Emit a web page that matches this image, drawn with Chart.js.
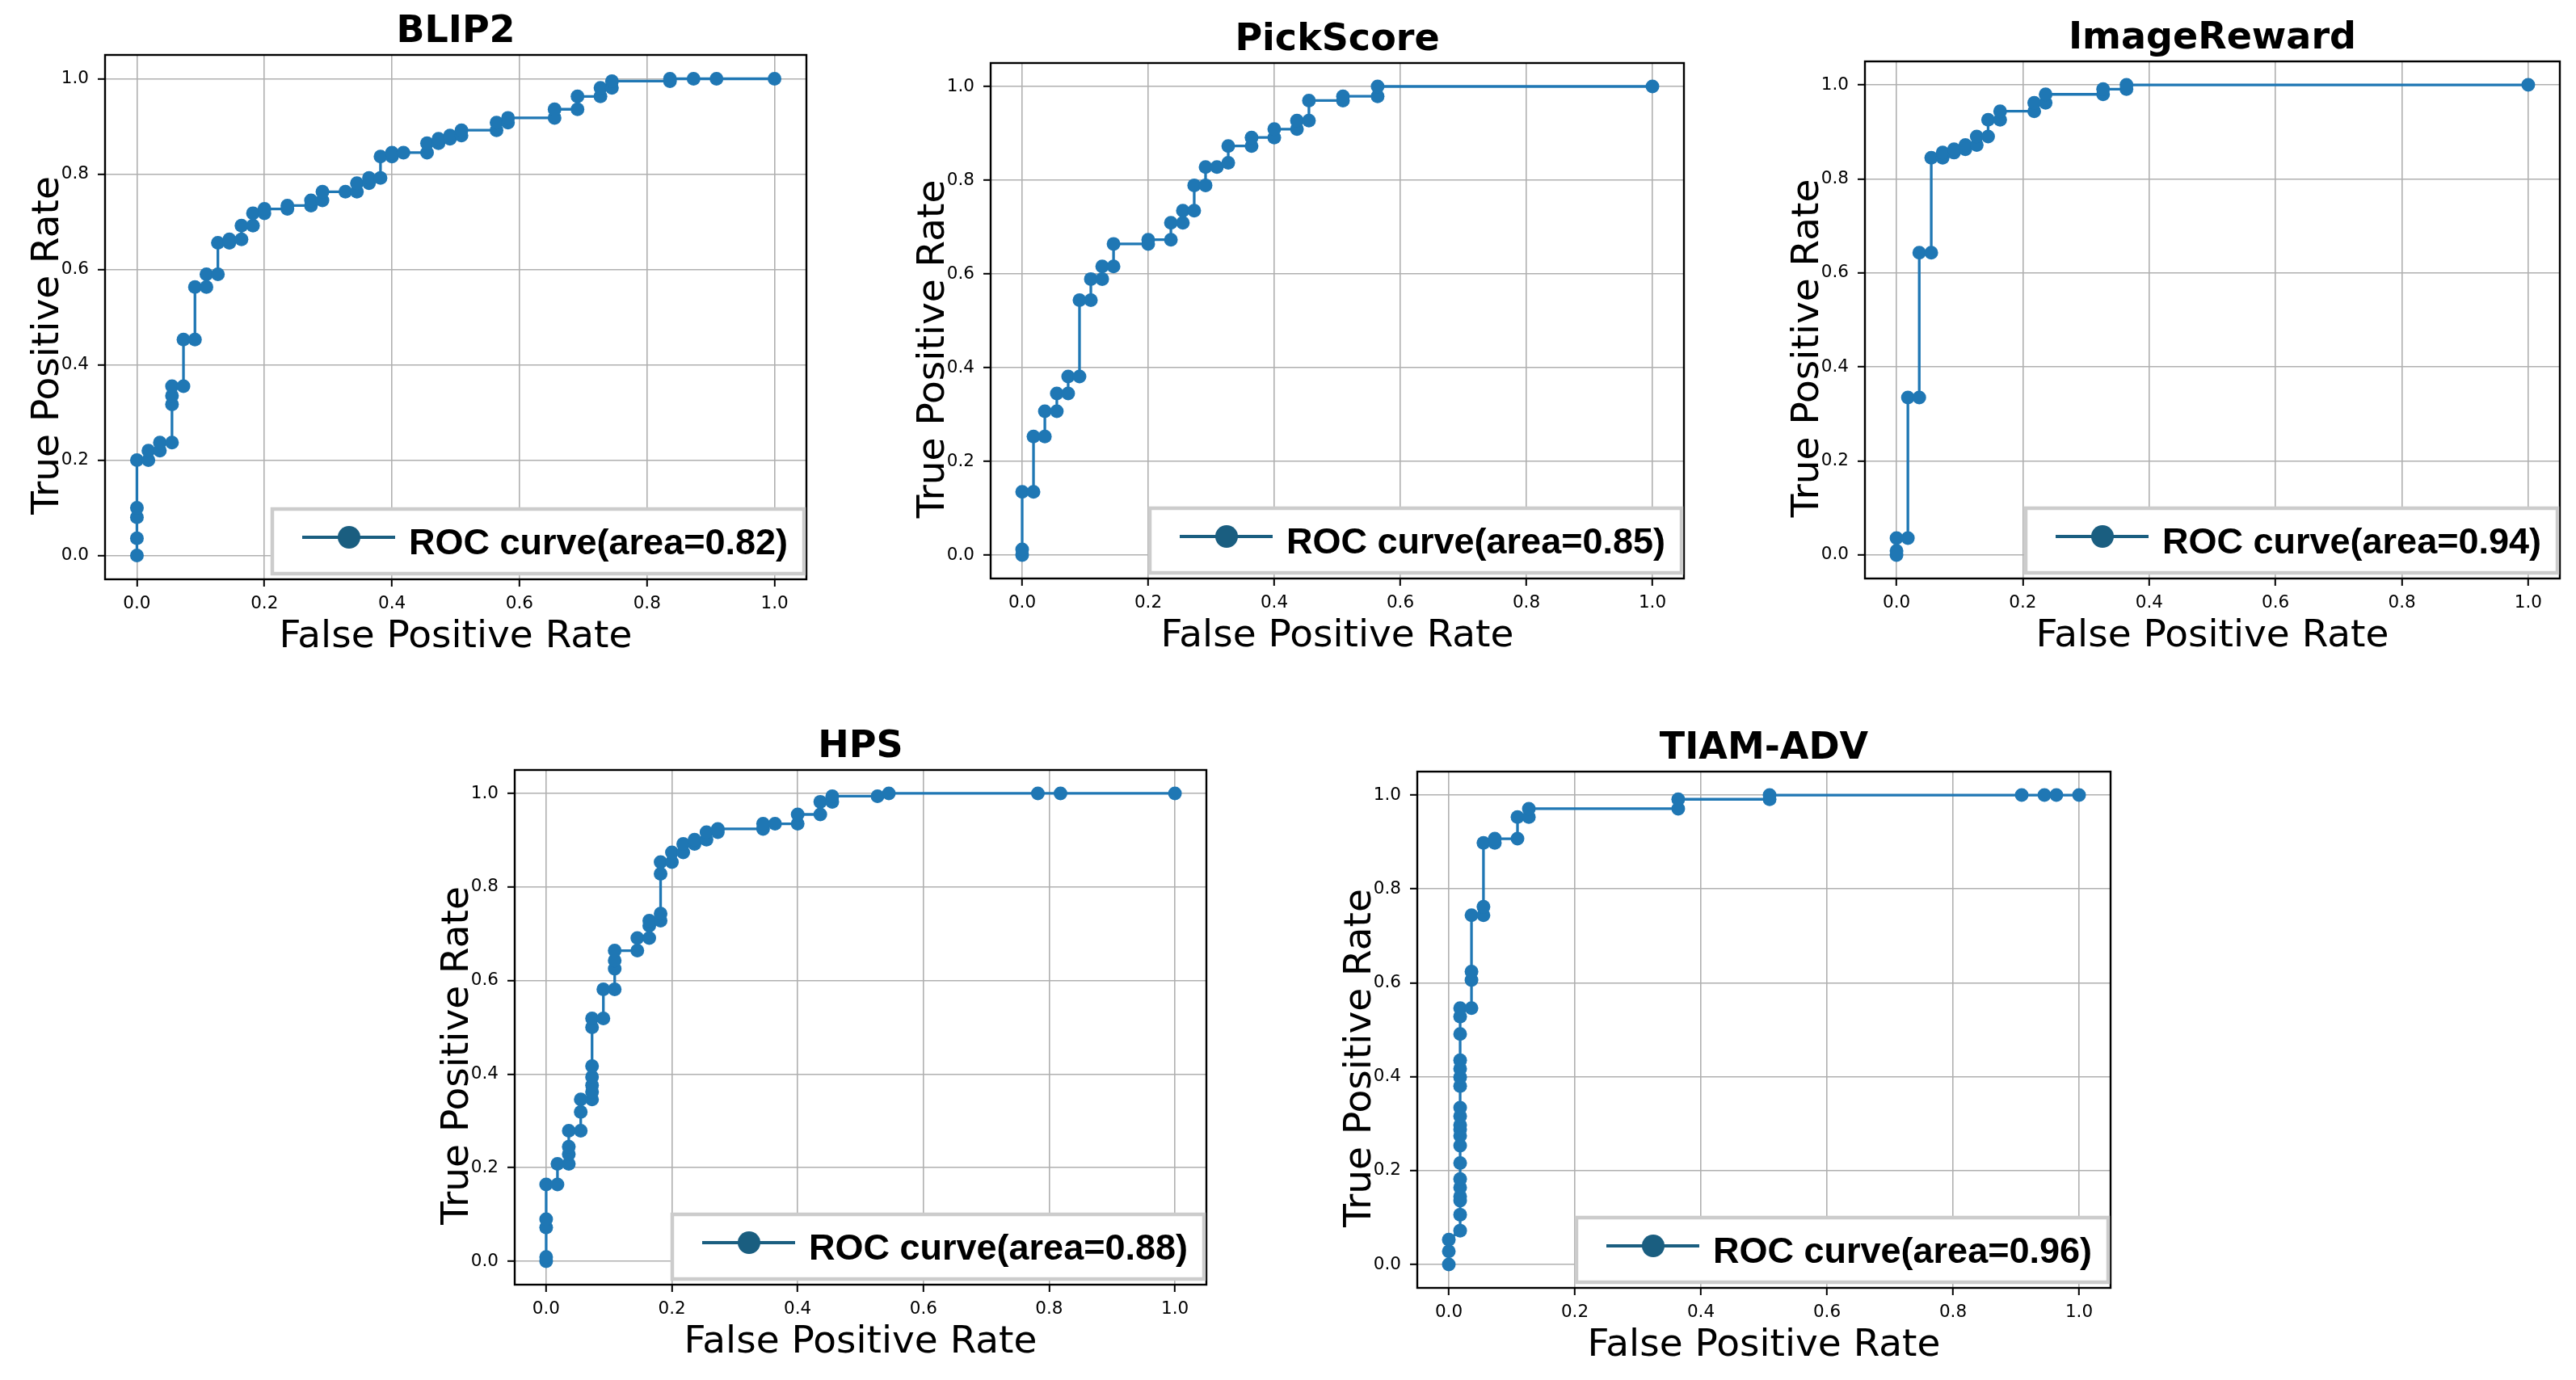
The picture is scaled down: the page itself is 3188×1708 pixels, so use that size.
<!DOCTYPE html>
<html>
<head>
<meta charset="utf-8">
<script src="https://cdn.jsdelivr.net/npm/chart.js@4.4.1/dist/chart.umd.min.js"></script>
<style>
  html, body { margin: 0; padding: 0; background: #fff; }
  #page { position: relative; width: 3188px; height: 1708px; overflow: hidden; background: #fff; }
  #page canvas { position: absolute; }
</style>
</head>
<body>
<div id="page"></div>
<script>
// ── Data ──────────────────────────────────────────────────────────────────
const tickValues = [0, 0.2, 0.4, 0.6, 0.8, 1.0];
const tickLabels = ["0.0", "0.2", "0.4", "0.6", "0.8", "1.0"];
const modelNames = ["BLIP2", "PickScore", "ImageReward", "HPS", "TIAM-ADV"];
const aucValues = ["0.82", "0.85", "0.94", "0.88", "0.96"];

const blip2Fpr = [0, 0, 0, 0, 0, 0.018, 0.018, 0.036, 0.036, 0.055, 0.055, 0.055, 0.055, 0.073, 0.073,
  0.091, 0.091, 0.109, 0.109, 0.127, 0.127, 0.145, 0.145, 0.164, 0.164, 0.182, 0.182, 0.2, 0.2,
  0.236, 0.236, 0.273, 0.273, 0.291, 0.291, 0.327, 0.345, 0.345, 0.364, 0.364, 0.382, 0.382, 0.4, 0.4,
  0.418, 0.455, 0.455, 0.473, 0.473, 0.491, 0.491, 0.509, 0.509, 0.564, 0.564, 0.582, 0.582,
  0.655, 0.655, 0.691, 0.691, 0.727, 0.727, 0.745, 0.745, 0.836, 0.836, 0.873, 0.909, 1.0];
const blip2Tpr = [0, 0.036, 0.08, 0.1, 0.2, 0.2, 0.22, 0.22, 0.237, 0.237, 0.317, 0.335, 0.355, 0.355, 0.453,
  0.453, 0.563, 0.563, 0.59, 0.59, 0.656, 0.656, 0.663, 0.663, 0.692, 0.692, 0.718, 0.718, 0.727,
  0.727, 0.734, 0.734, 0.745, 0.745, 0.763, 0.763, 0.763, 0.781, 0.781, 0.792, 0.792, 0.837, 0.837, 0.845,
  0.845, 0.845, 0.865, 0.865, 0.874, 0.874, 0.881, 0.881, 0.892, 0.892, 0.908, 0.908, 0.918,
  0.918, 0.936, 0.936, 0.963, 0.963, 0.981, 0.981, 0.995, 0.995, 1.0, 1.0, 1.0, 1.0];

const pickFpr = [0, 0, 0, 0.018, 0.018, 0.036, 0.036, 0.055, 0.055, 0.073, 0.073, 0.091, 0.091,
  0.109, 0.109, 0.127, 0.127, 0.145, 0.145, 0.2, 0.2, 0.236, 0.236, 0.255, 0.255, 0.273, 0.273,
  0.291, 0.291, 0.309, 0.327, 0.327, 0.364, 0.364, 0.4, 0.4, 0.436, 0.436, 0.455, 0.455,
  0.509, 0.509, 0.564, 0.564, 1.0];
const pickTpr = [0, 0.012, 0.135, 0.135, 0.253, 0.253, 0.307, 0.307, 0.345, 0.345, 0.381, 0.381, 0.544,
  0.544, 0.589, 0.589, 0.616, 0.616, 0.664, 0.664, 0.673, 0.673, 0.709, 0.709, 0.735, 0.735, 0.789,
  0.789, 0.828, 0.828, 0.837, 0.873, 0.873, 0.891, 0.891, 0.909, 0.909, 0.927, 0.927, 0.97,
  0.97, 0.979, 0.979, 1.0, 1.0];

const imageRewardFpr = [0, 0, 0, 0.018, 0.018, 0.036, 0.036, 0.055, 0.055, 0.073, 0.073, 0.091, 0.091,
  0.109, 0.109, 0.127, 0.127, 0.145, 0.145, 0.164, 0.164, 0.218, 0.218, 0.236, 0.236,
  0.327, 0.327, 0.364, 0.364, 1.0];
const imageRewardTpr = [0, 0.009, 0.036, 0.036, 0.335, 0.335, 0.643, 0.643, 0.845, 0.845, 0.856, 0.856, 0.863,
  0.863, 0.872, 0.872, 0.89, 0.89, 0.926, 0.926, 0.944, 0.944, 0.962, 0.962, 0.98,
  0.98, 0.991, 0.991, 1.0, 1.0];

const hpsFpr = [0, 0, 0, 0, 0, 0.018, 0.018, 0.036, 0.036, 0.036, 0.036, 0.055, 0.055, 0.055,
  0.073, 0.073, 0.073, 0.073, 0.073, 0.073, 0.073, 0.091, 0.091, 0.109, 0.109, 0.109, 0.109,
  0.145, 0.145, 0.164, 0.164, 0.164, 0.182, 0.182, 0.182, 0.182, 0.2, 0.2, 0.218, 0.218,
  0.236, 0.236, 0.255, 0.255, 0.273, 0.273, 0.345, 0.345, 0.364, 0.4, 0.4, 0.436, 0.436,
  0.455, 0.455, 0.527, 0.545, 0.782, 0.818, 1.0];
const hpsTpr = [0, 0.009, 0.072, 0.09, 0.164, 0.164, 0.208, 0.208, 0.229, 0.245, 0.279, 0.279, 0.319, 0.346,
  0.346, 0.362, 0.376, 0.394, 0.417, 0.5, 0.519, 0.519, 0.581, 0.581, 0.625, 0.643, 0.664,
  0.664, 0.691, 0.691, 0.717, 0.728, 0.728, 0.743, 0.828, 0.853, 0.853, 0.874, 0.874, 0.892,
  0.892, 0.901, 0.901, 0.917, 0.917, 0.924, 0.924, 0.935, 0.935, 0.935, 0.955, 0.955, 0.982,
  0.982, 0.994, 0.994, 1.0, 1.0, 1.0, 1.0];

const tiamFpr = [0, 0, 0,
  0.018, 0.018, 0.018, 0.018, 0.018, 0.018, 0.018, 0.018, 0.018, 0.018,
  0.018, 0.018, 0.018, 0.018, 0.018, 0.018, 0.018, 0.018, 0.018, 0.018,
  0.036, 0.036, 0.036, 0.036, 0.055, 0.055, 0.055, 0.073, 0.073, 0.109, 0.109,
  0.127, 0.127, 0.364, 0.364, 0.509, 0.509, 0.909, 0.945, 0.964, 1.0];
const tiamTpr = [0, 0.028, 0.053,
  0.072, 0.106, 0.136, 0.145, 0.164, 0.182, 0.216, 0.253, 0.274, 0.288,
  0.297, 0.316, 0.334, 0.38, 0.399, 0.417, 0.435, 0.491, 0.528, 0.546,
  0.546, 0.606, 0.624, 0.744, 0.744, 0.762, 0.898, 0.898, 0.907, 0.907, 0.953,
  0.953, 0.971, 0.971, 0.991, 0.991, 1.0, 1.0, 1.0, 1.0, 1.0];

const fprSeries = [blip2Fpr, pickFpr, imageRewardFpr, hpsFpr, tiamFpr];
const tprSeries = [blip2Tpr, pickTpr, imageRewardTpr, hpsTpr, tiamTpr];

// ── Layout: plot-area rectangles on the 3188×1708 page ────────────────────
const plotBoxes = [
  { left: 130, top: 68, width: 868, height: 649 },
  { left: 1226, top: 78, width: 858, height: 638 },
  { left: 2308, top: 76, width: 860, height: 640 },
  { left: 637, top: 953, width: 856, height: 637 },
  { left: 1754, top: 955, width: 858, height: 639 },
];
const PAD = { left: 145, top: 80, right: 15, bottom: 110 };

const LINE_BLUE = "#1f77b4";
const LEGEND_BLUE = "#1a5e80";

// ── Decorations: frame, title, axis labels, legend box ────────────────────
const panelDecor = {
  id: "panelDecor",
  afterDatasetsDraw(chart, args, opts) {
    const { ctx, chartArea: a } = chart;
    const cx = (a.left + a.right) / 2;
    const cy = (a.top + a.bottom) / 2;
    ctx.save();

    // axes frame (all four spines)
    ctx.strokeStyle = "#000";
    ctx.lineWidth = 2.4;
    ctx.strokeRect(a.left, a.top, a.right - a.left, a.bottom - a.top);

    // title
    ctx.fillStyle = "#000";
    ctx.textAlign = "center";
    ctx.textBaseline = "alphabetic";
    ctx.font = 'bold 46px "DejaVu Sans"';
    ctx.fillText(opts.title, cx, a.top - 16);

    // axis labels
    ctx.font = '47px "DejaVu Sans"';
    ctx.fillText("False Positive Rate", cx, a.bottom + 84);
    ctx.save();
    ctx.translate(a.left - 58, cy + 35);
    ctx.rotate(-Math.PI / 2);
    ctx.fillText("True Positive Rate", 0, 0);
    ctx.restore();

    // legend in lower-right corner
    const label = `ROC curve(area=${opts.auc})`;
    ctx.font = 'bold 45px "Liberation Sans"';
    const tw = ctx.measureText(label).width;
    const bw = 169 + tw + 20, bh = 80;
    const bx = a.right - 3 - bw, by = a.bottom - 7 - bh;
    ctx.fillStyle = "#fff";
    ctx.fillRect(bx, by, bw, bh);
    ctx.strokeStyle = "#cccccc";
    ctx.lineWidth = 4.5;
    ctx.strokeRect(bx, by, bw, bh);

    const my = by + bh / 2 - 5;
    ctx.strokeStyle = LEGEND_BLUE;
    ctx.lineWidth = 4;
    ctx.beginPath();
    ctx.moveTo(bx + 37, my);
    ctx.lineTo(bx + 152, my);
    ctx.stroke();
    ctx.fillStyle = LEGEND_BLUE;
    ctx.beginPath();
    ctx.arc(bx + 95, my, 14, 0, Math.PI * 2);
    ctx.fill();

    ctx.fillStyle = "#000";
    ctx.textAlign = "left";
    ctx.fillText(label, bx + 169, by + bh / 2 + 16);
    ctx.restore();
  },
};

function axisOptions(isX) {
  return {
    type: "linear",
    min: -0.05,
    max: 1.05,
    afterBuildTicks: (scale) => {
      scale.ticks = tickValues.map((v) => ({ value: v }));
    },
    afterFit: (scale) => {
      if (isX) scale.height = PAD.bottom;
      else scale.width = PAD.left - 45;
    },
    ticks: {
      autoSkip: false,
      maxRotation: 0,
      padding: isX ? 9 : 11,
      color: "#000",
      font: { family: "DejaVu Sans", size: 21.5 },
      callback: (v) => tickLabels[tickValues.indexOf(v)] ?? "",
    },
    grid: {
      color: "#b0b0b0",
      lineWidth: 1.6,
      drawTicks: true,
      tickLength: 9,
      tickColor: "#000",
      tickWidth: 2,
    },
    border: { display: false },
  };
}

const page = document.getElementById("page");

plotBoxes.forEach((box, i) => {
  const canvas = document.createElement("canvas");
  canvas.width = box.width + PAD.left + PAD.right;
  canvas.height = box.height + PAD.top + PAD.bottom;
  canvas.style.left = box.left - PAD.left + "px";
  canvas.style.top = box.top - PAD.top + "px";
  page.appendChild(canvas);

  const points = fprSeries[i].map((x, k) => ({ x: x, y: tprSeries[i][k] }));

  new Chart(canvas, {
    type: "line",
    data: {
      datasets: [{
        label: `ROC curve(area=${aucValues[i]})`,
        data: points,
        borderColor: LINE_BLUE,
        backgroundColor: LINE_BLUE,
        borderWidth: 3.3,
        pointRadius: 8.5,
        pointHoverRadius: 8.5,
        pointBorderWidth: 0,
        pointBackgroundColor: LINE_BLUE,
        tension: 0,
        fill: false,
      }],
    },
    options: {
      responsive: false,
      animation: false,
      devicePixelRatio: 1,
      events: [],
      layout: { padding: { left: 45, top: PAD.top, right: PAD.right, bottom: 0 } },
      scales: { x: axisOptions(true), y: axisOptions(false) },
      plugins: {
        legend: { display: false },
        tooltip: { enabled: false },
        panelDecor: { title: modelNames[i], auc: aucValues[i] },
      },
    },
    plugins: [panelDecor],
  });
});
</script>
</body>
</html>
